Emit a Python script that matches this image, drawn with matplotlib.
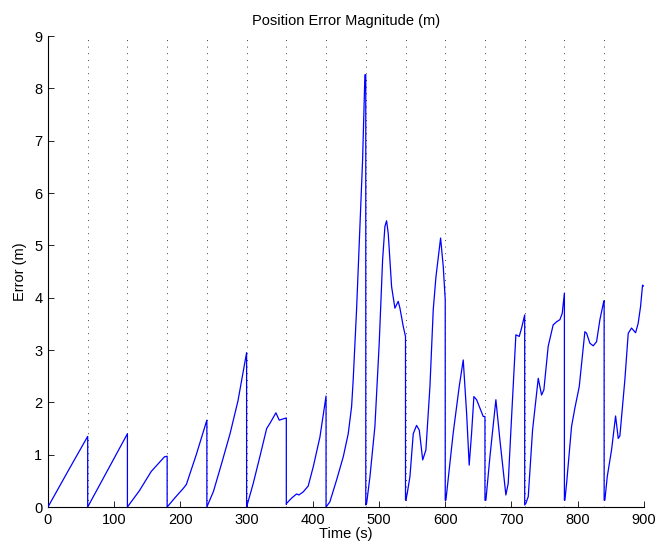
import numpy as np
import matplotlib
matplotlib.use('Agg')
import matplotlib.pyplot as plt

# Position error, one segment per 60 s update window (error resets at each fix)
seg_t = [
    [0, 30, 60],
    [60, 90, 120],
    [120, 138, 156, 171, 176, 180],
    [180, 192, 204, 209, 224, 232, 240],
    [240, 250, 262, 275, 287, 300],
    [300, 310, 320, 330.3, 335.3, 344.3, 349.3, 359.4, 360],
    [360, 360.4, 368, 375.5, 379, 385.6, 393, 400.7, 410.8, 420],
    [420, 425.8, 436, 446, 453.5, 458.6, 461, 466.1, 471.2, 475.2, 478.7, 480],
    [480, 481.3, 486.3, 493.8, 500.3, 505.4, 508.9, 511.4, 513.9, 519, 524, 529,
     531.6, 536.6, 540],
    [540, 540.6, 542.6, 546.7, 551.7, 556.7, 560.8, 566, 570.8, 576.9, 581.9,
     586, 593, 597, 600],
    [600, 601, 612, 621.1, 627.2, 632.3, 636.2, 639.8, 643.3, 647.4, 652.4, 657.4, 660],
    [660, 661.4, 667.5, 676.5, 682.6, 691.6, 695.1, 699.2, 706.7, 711.8, 715.3, 720],
    [720, 721.8, 725.4, 731.9, 740.5, 745.5, 749, 755.5, 763, 768.2, 773.2, 776.7, 780],
    [780, 780.7, 783.3, 790.8, 795.8, 802.4, 810.9, 813.5, 818.5, 823.5, 828.6,
     833.6, 839.6, 840],
    [840, 841.1, 844.7, 851.2, 857.3, 861.3, 863.8, 871.3, 876.4, 881.4, 887.5,
     891.4, 895, 898, 900],
]
seg_err = [
    [0, 0.68, 1.35],
    [0, 0.70, 1.40],
    [0, 0.31, 0.68, 0.89, 0.96, 0.97],
    [0, 0.18, 0.35, 0.43, 1.00, 1.33, 1.66],
    [0, 0.30, 0.82, 1.40, 2.03, 2.95],
    [0, 0.45, 0.96, 1.50, 1.60, 1.80, 1.66, 1.70, 1.70],
    [0.05, 0.07, 0.17, 0.25, 0.23, 0.29, 0.40, 0.77, 1.34, 2.12],
    [0, 0.10, 0.52, 0.96, 1.40, 1.92, 2.43, 3.77, 5.36, 6.63, 8.26, 8.26],
    [0.04, 0.07, 0.58, 1.54, 3.13, 4.72, 5.36, 5.47, 5.23, 4.21, 3.80, 3.93,
     3.80, 3.45, 3.26],
    [0.13, 0.13, 0.26, 0.58, 1.40, 1.56, 1.47, 0.90, 1.09, 2.30, 3.77,
     4.40, 5.14, 4.60, 3.96],
    [0.13, 0.13, 1.41, 2.30, 2.81, 1.79, 0.80, 1.41, 2.11, 2.05, 1.89, 1.73, 1.73],
    [0.13, 0.13, 0.96, 2.05, 1.28, 0.23, 0.45, 1.47, 3.29, 3.26, 3.42, 3.67],
    [0.04, 0.07, 0.20, 1.47, 2.46, 2.14, 2.24, 3.07, 3.48, 3.54, 3.58, 3.70, 4.09],
    [0.13, 0.13, 0.45, 1.54, 1.89, 2.30, 3.35, 3.32, 3.13, 3.08, 3.16,
     3.58, 3.94, 3.94],
    [0.13, 0.13, 0.58, 1.09, 1.74, 1.31, 1.36, 2.43, 3.32, 3.42, 3.33,
     3.51, 3.83, 4.24, 4.22],
]
update_times = list(range(0, 901, 60))
x_ticks = list(range(0, 901, 100))
y_ticks = list(range(0, 10))

t = np.concatenate([np.array(s, dtype=float) for s in seg_t])
err = np.concatenate([np.array(s, dtype=float) for s in seg_err])

plt.rcParams['font.family'] = ['Liberation Sans', 'DejaVu Sans']
plt.rcParams['font.size'] = 10.5

fig = plt.figure(figsize=(6.57, 5.46), dpi=100)
ax = fig.add_axes([0.073, 0.0714, 0.907, 0.8626])

for tu in update_times:
    ax.axvline(tu, color='k', linewidth=0.6, linestyle=(0, (1, 7)), zorder=1)

ax.plot(t, err, color=(0, 0, 1), linewidth=0.9, zorder=3)

ax.set_xlim(0, 900)
ax.set_ylim(0, 9)
ax.set_xticks(x_ticks)
ax.set_yticks(y_ticks)
ax.tick_params(direction='in', length=4, width=0.6, pad=4, labelsize=10.5)
for side in ['top', 'right']:
    ax.spines[side].set_visible(False)
for side in ['left', 'bottom']:
    ax.spines[side].set_linewidth(0.8)

ax.set_title('Position Error Magnitude (m)', fontsize=10.5, pad=8)
ax.set_xlabel('Time (s)', labelpad=0)
ax.set_ylabel('Error (m)', labelpad=5)

plt.savefig('out.png', dpi=100)
